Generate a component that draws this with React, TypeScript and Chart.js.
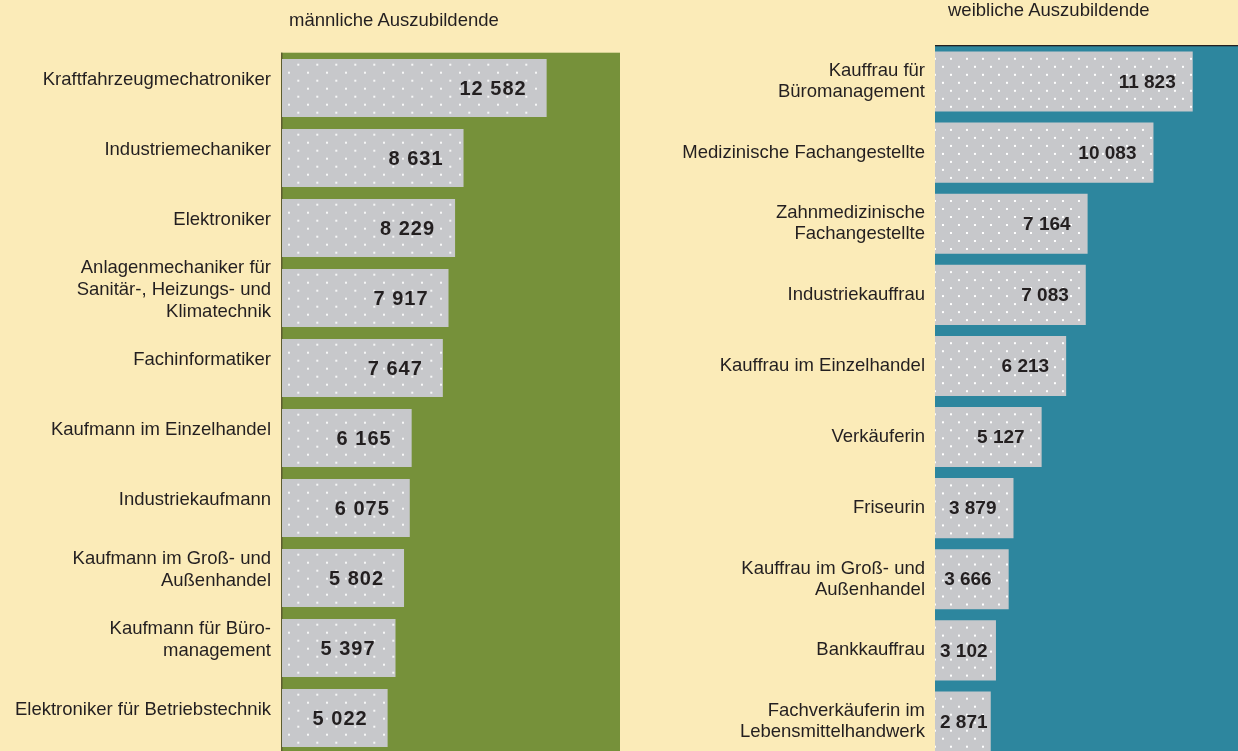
import React, { useEffect, useRef } from "react";
import { Chart, registerables } from "chart.js";

Chart.register(...registerables);

// ---------- data ----------
const maleTitle = "männliche Auszubildende";
const femaleTitle = "weibliche Auszubildende";

const maleJobs: (string | string[])[] = [
  "Kraftfahrzeugmechatroniker",
  "Industriemechaniker",
  "Elektroniker",
  ["Anlagenmechaniker für", "Sanitär-, Heizungs- und", "Klimatechnik"],
  "Fachinformatiker",
  "Kaufmann im Einzelhandel",
  "Industriekaufmann",
  ["Kaufmann im Groß- und", "Außenhandel"],
  ["Kaufmann für Büro-", "management"],
  "Elektroniker für Betriebstechnik",
];
const maleValues = [12582, 8631, 8229, 7917, 7647, 6165, 6075, 5802, 5397, 5022];

const femaleJobs: (string | string[])[] = [
  ["Kauffrau für", "Büromanagement"],
  "Medizinische Fachangestellte",
  ["Zahnmedizinische", "Fachangestellte"],
  "Industriekauffrau",
  "Kauffrau im Einzelhandel",
  "Verkäuferin",
  "Friseurin",
  ["Kauffrau im Groß- und", "Außenhandel"],
  "Bankkauffrau",
  ["Fachverkäuferin im", "Lebensmittelhandwerk"],
];
const femaleValues = [11823, 10083, 7164, 7083, 6213, 5127, 3879, 3666, 3102, 2871];

// ---------- style ----------
const FONT = "'Liberation Sans', Arial, Helvetica, sans-serif";
const TEXT = "#231f20";
const CREAM = "#fbebb8";
const GREEN = "#76913a";
const TEAL = "#2d869e";
const BAR = "#c7c8cb";

const fmt = (n: number) => String(n).replace(/\B(?=(\d{3})+(?!\d))/g, " ");

type PanelCfg = {
  labels: (string | string[])[];
  values: number[];
  width: number;
  height: number;
  left: number;
  panelColor: string;
  min: number;
  max: number;
  yWidth: number;
  padTop: number;
  barPct: number;
  labelOffset: number;
  tickPadding: number;
  lineHeight: number;
  dotY0: number;
  dotDy: number;
  dotXA: number;
  dotXB: number;
  dotSx: number;
  dotAlpha: number;
  valueFont: string;
  valueSpacing: string;
  valueGap: number;
  valueMinLeft: number;
  side: "left" | "right";
};

const maleCfg: PanelCfg = {
  labels: maleJobs,
  values: maleValues,
  width: 620,
  height: 753,
  left: 0,
  panelColor: GREEN,
  min: 0,
  max: 16070,
  yWidth: 282,
  padTop: 53,
  barPct: 58 / 70,
  labelOffset: -8,
  tickPadding: 11,
  lineHeight: 1.2,
  dotY0: 5.7,
  dotDy: 8,
  dotXA: 16.3,
  dotXB: 7,
  dotSx: 19,
  dotAlpha: 0.85,
  valueFont: `bold 20px ${FONT}`,
  valueSpacing: "1px",
  valueGap: 20,
  valueMinLeft: 4,
  side: "left",
};

const femaleCfg: PanelCfg = {
  labels: femaleJobs,
  values: femaleValues,
  width: 618,
  height: 757,
  left: 620,
  panelColor: TEAL,
  min: 400,
  max: 13830,
  yWidth: 315,
  padTop: 46,
  barPct: 60 / 71,
  labelOffset: 0,
  tickPadding: 10,
  lineHeight: 1.13,
  dotY0: 7.3,
  dotDy: 8,
  dotXA: 9,
  dotXB: 17,
  dotSx: 16,
  dotAlpha: 1,
  valueFont: `bold 19px ${FONT}`,
  valueSpacing: "0px",
  valueGap: 17,
  valueMinLeft: 5,
  side: "right",
};

function makePlugin(cfg: PanelCfg) {
  return {
    id: "panelDeco",
    beforeDatasetsDraw(chart: any) {
      const { ctx, chartArea } = chart;
      const { left, top, right, bottom } = chartArea;
      ctx.save();
      if (cfg.side === "left") {
        ctx.fillStyle = cfg.panelColor;
        ctx.fillRect(left - 1, top - 0.3, right - left + 1, bottom - top + 1);
        ctx.fillStyle = "#5d5c2f";
        ctx.fillRect(left - 1, top - 0.3, 1.5, bottom - top + 1);
      } else {
        ctx.fillStyle = cfg.panelColor;
        ctx.fillRect(left, top, right - left, bottom - top);
        ctx.fillStyle = "#231f20";
        ctx.fillRect(left, top - 1, right - left, 1.3);
      }
      ctx.restore();
    },
    afterDatasetsDraw(chart: any) {
      const { ctx, chartArea } = chart;
      const meta = chart.getDatasetMeta(0);
      const xScale = chart.scales.x;
      const origin = xScale.getPixelForValue(0);
      ctx.save();
      ctx.beginPath();
      ctx.rect(chartArea.left, chartArea.top, chartArea.right - chartArea.left, chartArea.bottom - chartArea.top);
      ctx.clip();
      // dots
      ctx.fillStyle = `rgba(255,255,255,${cfg.dotAlpha})`;
      meta.data.forEach((el: any) => {
        const p = el.getProps(["x", "y", "base", "height"], true);
        const r = Math.max(p.x, p.base);
        const t = p.y - p.height / 2;
        const b = p.y + p.height / 2;
        for (let row = 0; ; row++) {
          const yy = t + cfg.dotY0 + row * cfg.dotDy;
          if (yy > b - 1.5) break;
          const off = row % 2 === 0 ? cfg.dotXA : cfg.dotXB;
          for (let xx = origin + off; xx < r - 1.5; xx += cfg.dotSx) {
            ctx.fillRect(xx - 1, yy - 1, 2, 2);
          }
        }
      });
      // value labels
      ctx.font = cfg.valueFont;
      try {
        (ctx as any).letterSpacing = cfg.valueSpacing;
      } catch (e) {}
      ctx.fillStyle = TEXT;
      ctx.textAlign = "left";
      ctx.textBaseline = "middle";
      meta.data.forEach((el: any, i: number) => {
        const p = el.getProps(["x", "y", "base"], true);
        const r = Math.max(p.x, p.base);
        const txt = fmt(cfg.values[i]);
        const w = ctx.measureText(txt).width;
        let x0 = r - cfg.valueGap - w;
        const minX = chartArea.left + cfg.valueMinLeft;
        if (x0 < minX) x0 = minX;
        ctx.fillText(txt, x0, p.y + 1);
      });
      ctx.restore();
    },
  };
}

function Panel({ cfg }: { cfg: PanelCfg }) {
  const ref = useRef<HTMLCanvasElement | null>(null);
  useEffect(() => {
    if (!ref.current) return;
    const chart = new Chart(ref.current, {
      type: "bar",
      data: {
        labels: cfg.labels as any,
        datasets: [
          {
            data: cfg.values,
            backgroundColor: BAR,
            borderWidth: 0,
            barPercentage: cfg.barPct,
            categoryPercentage: 1,
          },
        ],
      },
      options: {
        indexAxis: "y",
        responsive: false,
        maintainAspectRatio: false,
        animation: false,
        devicePixelRatio: 1,
        layout: { padding: { top: cfg.padTop, bottom: 0, left: 0, right: 0 } },
        plugins: {
          legend: { display: false },
          tooltip: { enabled: false },
          title: { display: false },
        },
        scales: {
          x: { display: false, min: cfg.min, max: cfg.max },
          y: {
            grid: { display: false, drawTicks: false },
            border: { display: false },
            ticks: {
              autoSkip: false,
              color: TEXT,
              padding: cfg.tickPadding,
              labelOffset: cfg.labelOffset,
              font: { family: FONT, size: 18.5, lineHeight: cfg.lineHeight },
            },
            afterFit: (s: any) => {
              s.width = cfg.yWidth;
              s.paddingTop = 0;
              s.paddingBottom = 0;
            },
          },
        },
      } as any,
      plugins: [makePlugin(cfg)],
    });
    return () => chart.destroy();
  }, [cfg]);
  return (
    <canvas
      ref={ref}
      width={cfg.width}
      height={cfg.height}
      style={{ position: "absolute", left: cfg.left, top: 0, width: cfg.width, height: cfg.height }}
    />
  );
}

export default function App() {
  const titleStyle: React.CSSProperties = {
    position: "absolute",
    fontFamily: FONT,
    fontSize: 18.5,
    lineHeight: "18.5px",
    color: TEXT,
    whiteSpace: "nowrap",
  };
  return (
    <div
      style={{
        position: "fixed",
        left: 0,
        top: 0,
        width: 1238,
        height: 751,
        overflow: "hidden",
        background: CREAM,
      }}
    >
      <Panel cfg={maleCfg} />
      <Panel cfg={femaleCfg} />
      <div style={{ ...titleStyle, left: 289, top: 11 }}>{maleTitle}</div>
      <div style={{ ...titleStyle, left: 948, top: 1 }}>{femaleTitle}</div>
    </div>
  );
}
